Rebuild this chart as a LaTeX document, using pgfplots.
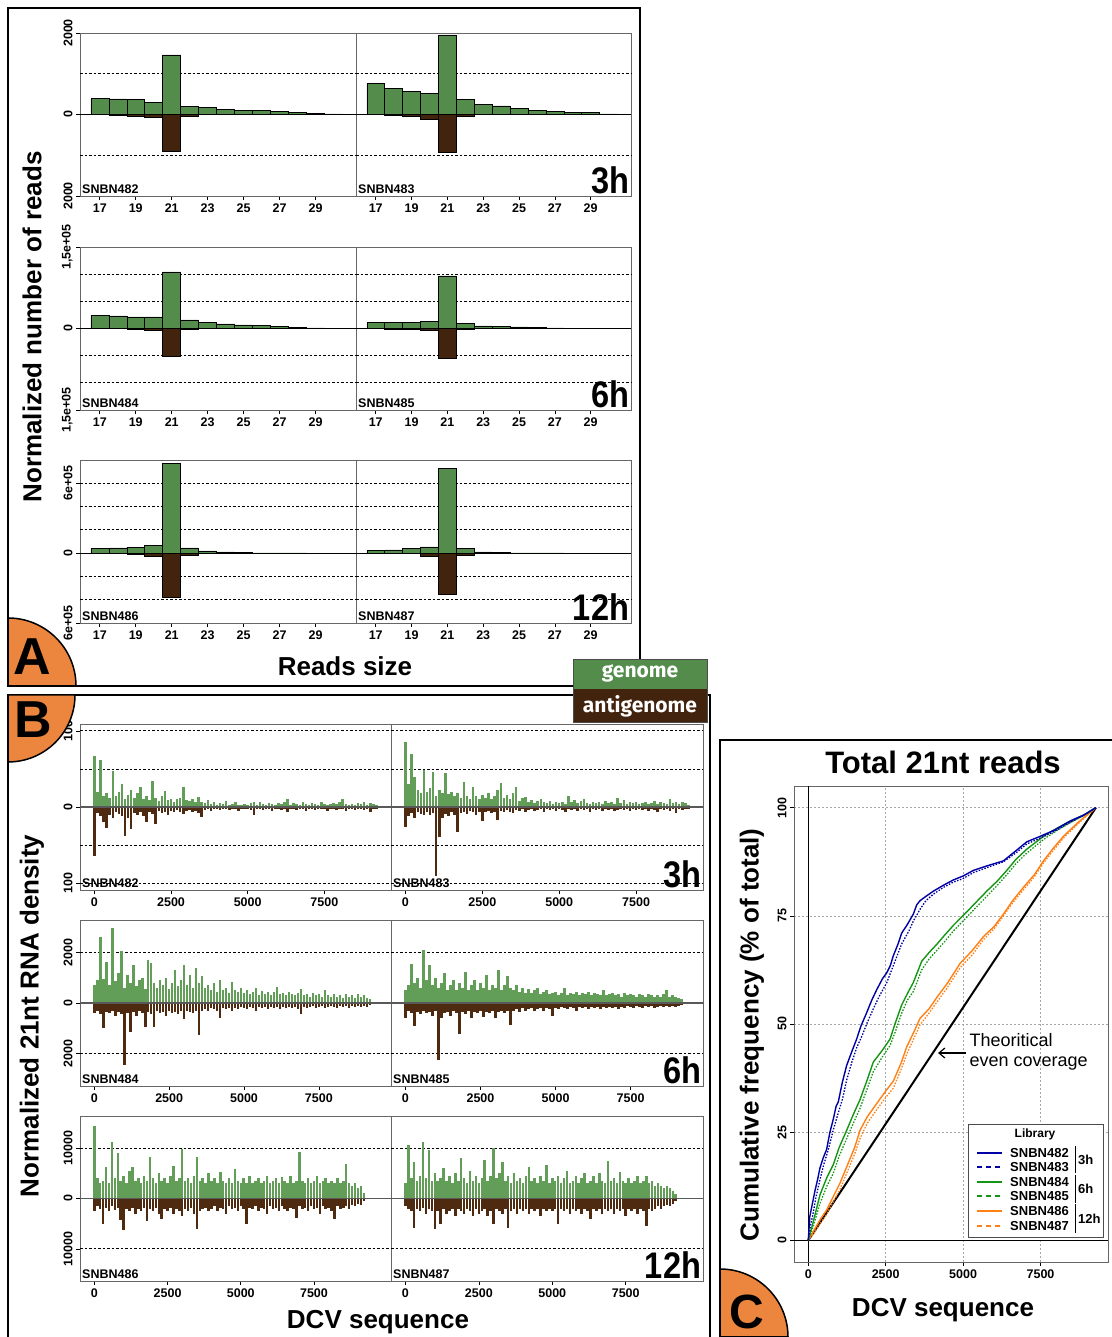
\documentclass[border=0pt]{standalone}
\usepackage{fontspec}
\setmainfont{Liberation Sans}
\newfontfamily\gfont{Fira Sans}
\usepackage{pgfplots}
\pgfplotsset{compat=1.18}
\usetikzlibrary{arrows.meta}
\definecolor{gen}{RGB}{84,140,76}
\definecolor{agen}{RGB}{66,35,14}
\definecolor{genB}{RGB}{98,158,88}
\definecolor{agenB}{RGB}{78,42,16}
\definecolor{orng}{RGB}{236,134,62}
\definecolor{cblue}{RGB}{0,0,165}
\definecolor{cgreen}{RGB}{20,150,20}
\definecolor{corange}{RGB}{255,128,20}
\newcommand\tk{\fontsize{12.5}{13}\selectfont\bfseries}
\newcommand\lib{\fontsize{12.5}{13}\selectfont\bfseries}
\newcommand\libL{\fontsize{13}{13}\selectfont\bfseries}
\newcommand\bigT{\fontsize{37}{37}\selectfont\bfseries}
\newcommand\lab{\fontsize{26}{26}\selectfont\bfseries}
\newcommand\titl{\fontsize{31}{31}\selectfont\bfseries}
\newcommand\gf{\gfont\fontsize{21}{21}\selectfont\bfseries}
\pgfplotsset{
 base/.style={scale only axis, anchor=south west,
   axis line style={draw=black!60, line width=0.8pt},
   tick align=outside, major tick length=4pt, tick style={black, line width=0.6pt},
   xticklabel style={font=\tk}, yticklabel style={font=\tk, rotate=90, anchor=south},
   scaled y ticks=false, scaled x ticks=false,
   /pgf/number format/1000 sep={}, /pgf/number format/assume math mode=true,
   extra y tick labels={}, extra y tick style={grid=major, major tick length=0pt},
   major grid style={black, line width=0.7pt, dash pattern=on 2.5pt off 2pt},
   xtick pos=bottom, ytick pos=left},
 A/.style={base, xmin=15.9, xmax=31.25, xtick={17,19,...,29}, height=163pt},
 B/.style={base, xtick={0,2500,5000,7500}},
 gbar/.style={ybar, bar width=1, bar shift=0pt, fill=gen, draw=black, line width=0.5pt},
 abar/.style={ybar, bar width=1, bar shift=0pt, fill=agen, draw=black, line width=0.5pt},
 gc/.style={ycomb, genB, line width=2.5pt},
 ac/.style={ycomb, agenB, line width=2.5pt},
}
\begin{document}
\begin{tikzpicture}
\path[use as bounding box] (0pt,0pt) rectangle (1111pt,1337pt);
%================ PANEL A ================
% row 1
\begin{axis}[A, at={(80pt,1141pt)}, width=276pt, ymin=-2000, ymax=2000, ytick={-2000,0,2000}, yticklabels={2000,0,2000}, extra y ticks={-1000,1000}]
\addplot[gbar] coordinates {(17,390)(18,382)(19,366)(20,293)(21,1463)(22,195)(23,171)(24,122)(25,106)(26,106)(27,73)(28,49)(29,24)(30,16)};
\addplot[abar] coordinates {(18,-24)(19,-49)(20,-73)(21,-894)(22,-49)};
\addplot[black, line width=1pt] coordinates {(15.9,0)(31.25,0)};
\node[anchor=south west, font=\lib, inner sep=2pt] at (rel axis cs:0,0) {SNBN482};
\end{axis}
\begin{axis}[A, at={(356pt,1141pt)}, width=275pt, ymin=-2000, ymax=2000, ytick=\empty, extra y ticks={-1000,1000}]
\addplot[gbar] coordinates {(17,756)(18,634)(19,561)(20,512)(21,1951)(22,366)(23,244)(24,211)(25,154)(26,106)(27,73)(28,49)(29,49)(30,16)};
\addplot[abar] coordinates {(18,-16)(19,-49)(20,-114)(21,-919)(22,-49)};
\addplot[black, line width=1pt] coordinates {(15.9,0)(31.25,0)};
\node[anchor=south west, font=\lib, inner sep=2pt] at (rel axis cs:0,0) {SNBN483};
\node[anchor=south east, font=\bigT, inner sep=2pt, xscale=0.88] at (rel axis cs:1,0) {3h};
\end{axis}
% row 2
\begin{axis}[A, at={(80pt,927pt)}, width=276pt, ymin=-150000, ymax=150000, ytick={-150000,0,150000}, yticklabels={{1,5e+05},0,{1,5e+05}}, extra y ticks={-100000,-50000,50000,100000}]
\addplot[gbar] coordinates {(17,23900)(18,23300)(19,21500)(20,21500)(21,104300)(22,16000)(23,11000)(24,8600)(25,6700)(26,5500)(27,3700)(28,2500)(29,1200)(30,600)};
\addplot[abar] coordinates {(19,-1200)(20,-3000)(21,-52000)(22,-1800)};
\addplot[black, line width=1pt] coordinates {(15.9,0)(31.25,0)};
\node[anchor=south west, font=\lib, inner sep=2pt] at (rel axis cs:0,0) {SNBN484};
\end{axis}
\begin{axis}[A, at={(356pt,927pt)}, width=275pt, ymin=-150000, ymax=150000, ytick=\empty, extra y ticks={-100000,-50000,50000,100000}]
\addplot[gbar] coordinates {(17,11000)(18,11000)(19,11000)(20,12900)(21,97000)(22,9200)(23,4900)(24,4300)(25,3000)(26,1800)(27,1200)(28,600)(29,600)(30,300)};
\addplot[abar] coordinates {(18,-600)(19,-1800)(20,-3000)(21,-55000)(22,-1800)};
\addplot[black, line width=1pt] coordinates {(15.9,0)(31.25,0)};
\node[anchor=south west, font=\lib, inner sep=2pt] at (rel axis cs:0,0) {SNBN485};
\node[anchor=south east, font=\bigT, inner sep=2pt, xscale=0.88] at (rel axis cs:1,0) {6h};
\end{axis}
% row 3
\begin{axis}[A, at={(80pt,714pt)}, width=276pt, ymin=-600000, ymax=800000, ytick={-600000,0,600000}, yticklabels={6e+05,0,6e+05}, extra y ticks={-400000,-200000,200000,400000,600000}]
\addplot[gbar] coordinates {(17,40000)(18,46000)(19,51000)(20,69000)(21,769000)(22,46000)(23,20000)(24,11000)(25,6000)(26,3000)(27,2000)(28,1500)(29,1000)(30,1000)};
\addplot[abar] coordinates {(19,-6000)(20,-26000)(21,-377000)(22,-14000)(23,-3000)};
\addplot[black, line width=1pt] coordinates {(15.9,0)(31.25,0)};
\node[anchor=south west, font=\lib, inner sep=2pt] at (rel axis cs:0,0) {SNBN486};
\end{axis}
\begin{axis}[A, at={(356pt,714pt)}, width=275pt, ymin=-600000, ymax=800000, ytick=\empty, extra y ticks={-400000,-200000,200000,400000,600000}]
\addplot[gbar] coordinates {(17,23000)(18,29000)(19,40000)(20,54000)(21,731000)(22,40000)(23,11000)(24,6000)(25,3000)(26,2000)(27,1500)(28,1000)(29,1000)(30,1000)};
\addplot[abar] coordinates {(19,-3000)(20,-23000)(21,-357000)(22,-14000)};
\addplot[black, line width=1pt] coordinates {(15.9,0)(31.25,0)};
\node[anchor=south west, font=\lib, inner sep=2pt] at (rel axis cs:0,0) {SNBN487};
\node[anchor=south east, font=\bigT, inner sep=2pt, xscale=0.88] at (rel axis cs:1,0) {12h};
\end{axis}
%================ PANEL B ================
% row 1
\begin{axis}[B, at={(80pt,447pt)}, width=311pt, height=166pt, xmin=-470, xmax=9675, ymin=-109, ymax=109, ytick={-100,0,100}, yticklabels={100,0,100}, extra y ticks={-100,-50,50,100}]
\addplot[gc] coordinates {(0,67)(100,20)(200,62)(300,15)(400,18)(500,12)(600,47)(700,14)(800,20)(900,30)(1000,10)(1100,16)(1200,22)(1300,12)(1400,18)(1500,26)(1600,11)(1700,14)(1800,9)(1900,34)(2000,12)(2100,8)(2200,14)(2300,21)(2400,9)(2500,11)(2600,7)(2700,10)(2800,12)(2900,26)(3000,9)(3100,8)(3200,11)(3300,6)(3400,13)(3500,7)(3600,5)(3700,9)(3800,4)(3900,6)(4000,3)(4100,5)(4200,4)(4300,8)(4400,3)(4500,4)(4600,7)(4700,3)(4800,2)(4900,4)(5000,3)(5100,5)(5200,7)(5300,3)(5400,6)(5500,4)(5600,3)(5700,5)(5800,4)(5900,3)(6000,5)(6100,4)(6200,7)(6300,10)(6400,3)(6500,5)(6600,4)(6700,3)(6800,6)(6900,4)(7000,3)(7100,5)(7200,4)(7300,3)(7400,6)(7500,4)(7600,3)(7700,4)(7800,5)(7900,4)(8000,6)(8100,10)(8200,4)(8300,3)(8400,4)(8500,3)(8600,5)(8700,4)(8800,6)(8900,3)(9000,5)(9100,4)(9200,2)};
\addplot[ac] coordinates {(0,-65)(100,-8)(200,-12)(300,-20)(400,-27)(500,-10)(600,-14)(700,-6)(800,-9)(900,-12)(1000,-38)(1100,-15)(1200,-29)(1300,-8)(1400,-10)(1500,-7)(1600,-12)(1700,-20)(1800,-6)(1900,-9)(2000,-22)(2100,-5)(2200,-8)(2300,-6)(2400,-10)(2500,-5)(2600,-7)(2700,-4)(2800,-6)(2900,-9)(3000,-5)(3100,-4)(3200,-7)(3300,-5)(3400,-8)(3500,-13)(3600,-4)(3700,-3)(3800,-5)(3900,-3)(4000,-2)(4100,-4)(4200,-3)(4300,-2)(4400,-4)(4500,-3)(4600,-2)(4700,-5)(4800,-3)(4900,-2)(5000,-3)(5100,-4)(5200,-10)(5300,-2)(5400,-3)(5500,-4)(5600,-2)(5700,-3)(5800,-5)(5900,-2)(6000,-3)(6100,-4)(6200,-2)(6300,-6)(6400,-3)(6500,-2)(6600,-4)(6700,-3)(6800,-2)(6900,-5)(7000,-3)(7100,-2)(7200,-4)(7300,-3)(7400,-2)(7500,-3)(7600,-5)(7700,-2)(7800,-3)(7900,-4)(8000,-2)(8100,-3)(8200,-5)(8300,-2)(8400,-3)(8500,-4)(8600,-2)(8700,-3)(8800,-4)(8900,-2)(9000,-7)(9100,-3)(9200,-2)};
\addplot[black!65, line width=1.5pt] coordinates {(-500,0)(10200,0)};
\node[anchor=south west, font=\lib, inner sep=2pt] at (rel axis cs:0,0) {SNBN482};
\end{axis}
\begin{axis}[B, at={(391pt,447pt)}, width=312pt, height=166pt, xmin=-470, xmax=9675, ymin=-109, ymax=109, ytick=\empty, extra y ticks={-100,-50,50,100}]
\addplot[gc] coordinates {(0,85)(100,30)(200,70)(300,40)(400,22)(500,18)(600,48)(700,20)(800,25)(900,46)(1000,15)(1100,22)(1200,18)(1300,44)(1400,17)(1500,20)(1600,14)(1700,18)(1800,12)(1900,33)(2000,15)(2100,11)(2200,26)(2300,14)(2400,10)(2500,16)(2600,12)(2700,19)(2800,11)(2900,14)(3000,22)(3100,31)(3200,12)(3300,16)(3400,10)(3500,18)(3600,26)(3700,8)(3800,12)(3900,13)(4000,6)(4100,9)(4200,5)(4300,8)(4400,11)(4500,6)(4600,5)(4700,8)(4800,4)(4900,6)(5000,5)(5100,7)(5200,4)(5300,15)(5400,6)(5500,9)(5600,5)(5700,8)(5800,11)(5900,5)(6000,4)(6100,7)(6200,5)(6300,6)(6400,4)(6500,8)(6600,5)(6700,6)(6800,4)(6900,12)(7000,5)(7100,9)(7200,4)(7300,6)(7400,5)(7500,7)(7600,4)(7700,5)(7800,6)(7900,4)(8000,5)(8100,8)(8200,4)(8300,6)(8400,5)(8500,4)(8600,10)(8700,5)(8800,7)(8900,4)(9000,6)(9100,5)(9200,3)};
\addplot[ac] coordinates {(0,-26)(100,-12)(200,-8)(300,-14)(400,-6)(500,-9)(600,-11)(700,-7)(800,-10)(900,-8)(1000,-90)(1100,-40)(1200,-15)(1300,-9)(1400,-12)(1500,-7)(1600,-10)(1700,-33)(1800,-8)(1900,-6)(2000,-9)(2100,-5)(2200,-7)(2300,-10)(2400,-6)(2500,-18)(2600,-7)(2700,-5)(2800,-8)(2900,-6)(3000,-17)(3100,-5)(3200,-7)(3300,-4)(3400,-6)(3500,-8)(3600,-4)(3700,-5)(3800,-3)(3900,-6)(4000,-4)(4100,-3)(4200,-5)(4300,-4)(4400,-3)(4500,-6)(4600,-3)(4700,-4)(4800,-3)(4900,-5)(5000,-3)(5100,-4)(5200,-7)(5300,-3)(5400,-4)(5500,-3)(5600,-5)(5700,-3)(5800,-4)(5900,-3)(6000,-6)(6100,-3)(6200,-4)(6300,-3)(6400,-5)(6500,-3)(6600,-4)(6700,-3)(6800,-5)(6900,-4)(7000,-3)(7100,-4)(7200,-3)(7300,-5)(7400,-3)(7500,-4)(7600,-3)(7700,-4)(7800,-3)(7900,-5)(8000,-3)(8100,-4)(8200,-6)(8300,-3)(8400,-4)(8500,-3)(8600,-5)(8700,-3)(8800,-8)(8900,-3)(9000,-4)(9100,-3)(9200,-2)};
\addplot[black!65, line width=1.5pt] coordinates {(-500,0)(10200,0)};
\node[anchor=south west, font=\lib, inner sep=2pt] at (rel axis cs:0,0) {SNBN483};
\node[anchor=south east, font=\bigT, inner sep=2pt, xscale=0.88] at (rel axis cs:1,0) {3h};
\end{axis}
% row 2
\begin{axis}[B, at={(80pt,251pt)}, width=311pt, height=166pt, xmin=-480, xmax=9910, ymin=-3270, ymax=3270, ytick={-2000,0,2000}, yticklabels={2000,0,2000}, extra y ticks={-2000,2000}]
\addplot[gc] coordinates {(0,720)(100,900)(200,2610)(300,950)(400,1600)(500,700)(600,2940)(700,850)(800,1200)(900,2060)(1000,600)(1100,1100)(1200,800)(1300,1500)(1400,650)(1500,900)(1600,1000)(1700,550)(1800,1700)(1900,1570)(2000,800)(2100,600)(2200,900)(2300,700)(2400,1000)(2500,550)(2600,800)(2700,1310)(2800,650)(2900,900)(3000,1480)(3100,700)(3200,1100)(3300,600)(3400,1390)(3500,800)(3600,1050)(3700,600)(3800,700)(3900,500)(4000,800)(4100,450)(4200,915)(4300,500)(4400,600)(4500,400)(4600,810)(4700,500)(4800,450)(4900,600)(5000,400)(5100,520)(5200,350)(5300,450)(5400,600)(5500,300)(5600,480)(5700,350)(5800,420)(5900,300)(6000,450)(6100,630)(6200,350)(6300,400)(6400,300)(6500,450)(6600,350)(6700,300)(6800,400)(6900,550)(7000,300)(7100,350)(7200,250)(7300,400)(7400,300)(7500,350)(7600,250)(7700,520)(7800,300)(7900,250)(8000,350)(8100,250)(8200,300)(8300,200)(8400,350)(8500,250)(8600,300)(8700,200)(8800,370)(8900,250)(9000,300)(9100,200)(9200,150)};
\addplot[ac] coordinates {(0,-390)(100,-300)(200,-450)(300,-980)(400,-350)(500,-400)(600,-300)(700,-500)(800,-350)(900,-450)(1000,-2460)(1100,-400)(1200,-1150)(1300,-350)(1400,-500)(1500,-300)(1600,-400)(1700,-940)(1800,-350)(1900,-450)(2000,-940)(2100,-300)(2200,-400)(2300,-350)(2400,-500)(2500,-300)(2600,-400)(2700,-350)(2800,-450)(2900,-300)(3000,-650)(3100,-300)(3200,-350)(3300,-400)(3400,-300)(3500,-1280)(3600,-300)(3700,-250)(3800,-300)(3900,-200)(4000,-250)(4100,-300)(4200,-590)(4300,-200)(4400,-250)(4500,-200)(4600,-300)(4700,-200)(4800,-250)(4900,-150)(5000,-200)(5100,-250)(5200,-150)(5300,-200)(5400,-300)(5500,-150)(5600,-200)(5700,-150)(5800,-250)(5900,-150)(6000,-200)(6100,-150)(6200,-250)(6300,-150)(6400,-200)(6500,-150)(6600,-200)(6700,-150)(6800,-250)(6900,-420)(7000,-150)(7100,-200)(7200,-150)(7300,-100)(7400,-200)(7500,-150)(7600,-100)(7700,-200)(7800,-150)(7900,-100)(8000,-150)(8100,-200)(8200,-100)(8300,-150)(8400,-100)(8500,-200)(8600,-100)(8700,-150)(8800,-100)(8900,-150)(9000,-100)(9100,-150)(9200,-80)};
\addplot[black!65, line width=1.5pt] coordinates {(-500,0)(10200,0)};
\node[anchor=south west, font=\lib, inner sep=2pt] at (rel axis cs:0,0) {SNBN484};
\end{axis}
\begin{axis}[B, at={(391pt,251pt)}, width=312pt, height=166pt, xmin=-480, xmax=9910, ymin=-3270, ymax=3270, ytick=\empty, extra y ticks={-2000,2000}]
\addplot[gc] coordinates {(0,500)(100,700)(200,1540)(300,800)(400,1000)(500,600)(600,2090)(700,900)(800,1500)(900,700)(1000,1000)(1100,600)(1200,800)(1300,1180)(1400,500)(1500,700)(1600,900)(1700,500)(1800,800)(1900,600)(2000,1240)(2100,500)(2200,700)(2300,900)(2400,500)(2500,800)(2600,600)(2700,1110)(2800,500)(2900,700)(3000,600)(3100,1310)(3200,500)(3300,700)(3400,1045)(3500,600)(3600,500)(3700,700)(3800,450)(3900,600)(4000,400)(4100,550)(4200,400)(4300,500)(4400,600)(4500,350)(4600,450)(4700,500)(4800,350)(4900,400)(5000,450)(5100,300)(5200,400)(5300,590)(5400,300)(5500,400)(5600,350)(5700,450)(5800,300)(5900,400)(6000,350)(6100,450)(6200,300)(6300,400)(6400,350)(6500,300)(6600,520)(6700,300)(6800,350)(6900,400)(7000,300)(7100,350)(7200,250)(7300,400)(7400,300)(7500,350)(7600,300)(7700,250)(7800,350)(7900,300)(8000,250)(8100,350)(8200,300)(8300,250)(8400,300)(8500,250)(8600,350)(8700,520)(8800,250)(8900,300)(9000,250)(9100,200)(9200,150)};
\addplot[ac] coordinates {(0,-600)(100,-300)(200,-400)(300,-915)(400,-350)(500,-450)(600,-300)(700,-400)(800,-350)(900,-500)(1000,-300)(1100,-2250)(1200,-600)(1300,-400)(1400,-350)(1500,-500)(1600,-300)(1700,-400)(1800,-1240)(1900,-350)(2000,-450)(2100,-300)(2200,-600)(2300,-350)(2400,-400)(2500,-300)(2600,-550)(2700,-350)(2800,-400)(2900,-300)(3000,-600)(3100,-350)(3200,-300)(3300,-400)(3400,-300)(3500,-850)(3600,-300)(3700,-250)(3800,-350)(3900,-200)(4000,-300)(4100,-250)(4200,-200)(4300,-300)(4400,-250)(4500,-200)(4600,-300)(4700,-200)(4800,-250)(4900,-500)(5000,-200)(5100,-250)(5200,-150)(5300,-200)(5400,-250)(5500,-150)(5600,-200)(5700,-300)(5800,-150)(5900,-200)(6000,-150)(6100,-250)(6200,-150)(6300,-200)(6400,-150)(6500,-250)(6600,-150)(6700,-200)(6800,-150)(6900,-200)(7000,-150)(7100,-250)(7200,-150)(7300,-200)(7400,-100)(7500,-150)(7600,-200)(7700,-100)(7800,-150)(7900,-200)(8000,-100)(8100,-150)(8200,-100)(8300,-200)(8400,-150)(8500,-100)(8600,-150)(8700,-100)(8800,-150)(8900,-100)(9000,-150)(9100,-100)(9200,-80)};
\addplot[black!65, line width=1.5pt] coordinates {(-500,0)(10200,0)};
\node[anchor=south west, font=\lib, inner sep=2pt] at (rel axis cs:0,0) {SNBN485};
\node[anchor=south east, font=\bigT, inner sep=2pt, xscale=0.88] at (rel axis cs:1,0) {6h};
\end{axis}
% row 3
\begin{axis}[B, at={(80pt,56pt)}, width=311pt, height=165pt, xmin=-490, xmax=10130, ymin=-16400, ymax=16400, ytick={-10000,0,10000}, yticklabels={10000,0,10000}, extra y ticks={-10000,10000}]
\addplot[gc] coordinates {(0,14400)(100,4000)(200,3000)(300,3500)(400,6200)(500,3000)(600,11300)(700,4000)(800,8950)(900,3500)(1000,4500)(1100,3000)(1200,5500)(1300,6200)(1400,3500)(1500,4000)(1600,3000)(1700,4500)(1800,3500)(1900,8300)(2000,4000)(2100,3000)(2200,5000)(2300,3500)(2400,4000)(2500,3000)(2600,4500)(2700,6500)(2800,3500)(2900,4000)(3000,9800)(3100,3500)(3200,4000)(3300,3000)(3400,4500)(3500,8150)(3600,3500)(3700,4000)(3800,3000)(3900,5000)(4000,3500)(4100,4000)(4200,3000)(4300,5330)(4400,3500)(4500,3000)(4600,4000)(4700,3000)(4800,5860)(4900,3500)(5000,3000)(5100,4000)(5200,3000)(5300,4500)(5400,3000)(5500,3500)(5600,4000)(5700,3000)(5800,3500)(5900,4500)(6000,3000)(6100,3500)(6200,4000)(6300,3000)(6400,4200)(6500,3500)(6600,3000)(6700,4500)(6800,3000)(6900,3500)(7000,9200)(7100,3500)(7200,3000)(7300,4000)(7400,3000)(7500,3500)(7600,4500)(7700,3000)(7800,3500)(7900,4000)(8000,3000)(8100,3500)(8200,3000)(8300,4000)(8400,3000)(8500,3500)(8600,6840)(8700,3000)(8800,2500)(8900,3000)(9000,2000)(9100,2500)(9200,1000)};
\addplot[ac] coordinates {(0,-2400)(100,-1500)(200,-2000)(300,-5130)(400,-1800)(500,-2500)(600,-1500)(700,-2200)(800,-1800)(900,-4340)(1000,-6180)(1100,-2000)(1200,-2500)(1300,-1800)(1400,-3000)(1500,-2000)(1600,-2500)(1700,-1800)(1800,-4540)(1900,-2000)(2000,-2500)(2100,-1800)(2200,-3000)(2300,-4010)(2400,-2000)(2500,-2500)(2600,-1800)(2700,-3000)(2800,-2000)(2900,-2500)(3000,-3500)(3100,-2000)(3200,-2500)(3300,-1800)(3400,-3000)(3500,-6120)(3600,-2500)(3700,-2000)(3800,-1800)(3900,-2500)(4000,-2000)(4100,-1500)(4200,-2500)(4300,-1800)(4400,-2000)(4500,-3000)(4600,-1500)(4700,-2000)(4800,-1800)(4900,-2500)(5000,-1500)(5100,-2000)(5200,-5000)(5300,-1800)(5400,-2000)(5500,-1500)(5600,-2500)(5700,-1800)(5800,-2000)(5900,-3000)(6000,-1500)(6100,-2000)(6200,-1800)(6300,-2500)(6400,-1500)(6500,-2000)(6600,-2500)(6700,-1800)(6800,-2000)(6900,-3820)(7000,-1500)(7100,-2000)(7200,-1800)(7300,-2500)(7400,-1500)(7500,-2000)(7600,-1800)(7700,-3000)(7800,-1500)(7900,-2000)(8000,-1800)(8100,-2500)(8200,-4010)(8300,-1500)(8400,-2000)(8500,-1800)(8600,-1500)(8700,-2000)(8800,-1200)(8900,-1500)(9000,-1000)(9100,-1200)(9200,-500)};
\addplot[black!65, line width=1.5pt] coordinates {(-500,0)(10200,0)};
\node[anchor=south west, font=\lib, inner sep=2pt] at (rel axis cs:0,0) {SNBN486};
\end{axis}
\begin{axis}[B, at={(391pt,56pt)}, width=312pt, height=165pt, xmin=-490, xmax=10130, ymin=-16400, ymax=16400, ytick=\empty, extra y ticks={-10000,10000}]
\addplot[gc] coordinates {(0,3000)(100,10600)(200,4000)(300,7300)(400,3500)(500,4500)(600,11250)(700,4000)(800,9600)(900,3500)(1000,5000)(1100,3500)(1200,4000)(1300,6000)(1400,3500)(1500,4500)(1600,3000)(1700,5000)(1800,3500)(1900,7960)(2000,4000)(2100,3000)(2200,5500)(2300,3500)(2400,4500)(2500,3000)(2600,4000)(2700,7700)(2800,3500)(2900,4500)(3000,10000)(3100,4000)(3200,5000)(3300,7170)(3400,3500)(3500,4500)(3600,3000)(3700,5000)(3800,3500)(3900,4000)(4000,3000)(4100,4500)(4200,6180)(4300,3500)(4400,4000)(4500,3000)(4600,4500)(4700,3500)(4800,6650)(4900,3000)(5000,4000)(5100,3500)(5200,4500)(5300,3000)(5400,4000)(5500,5500)(5600,3000)(5700,3500)(5800,4500)(5900,3000)(6000,4000)(6100,5000)(6200,3000)(6300,3500)(6400,4500)(6500,3000)(6600,5000)(6700,3500)(6800,3000)(6900,7500)(7000,3500)(7100,4000)(7200,3000)(7300,5330)(7400,3500)(7500,3000)(7600,4000)(7700,3000)(7800,3500)(7900,4500)(8000,3000)(8100,3500)(8200,4500)(8300,3000)(8400,3500)(8500,2500)(8600,3000)(8700,2500)(8800,2000)(8900,2500)(9000,2000)(9100,1500)(9200,800)};
\addplot[ac] coordinates {(0,-1500)(100,-2000)(200,-2500)(300,-5790)(400,-2000)(500,-2500)(600,-1800)(700,-3000)(800,-2000)(900,-2500)(1000,-6120)(1100,-2500)(1200,-5000)(1300,-2000)(1400,-3000)(1500,-2500)(1600,-2000)(1700,-3500)(1800,-2000)(1900,-2500)(2000,-3000)(2100,-2000)(2200,-2500)(2300,-3500)(2400,-2000)(2500,-3000)(2600,-2500)(2700,-2000)(2800,-3500)(2900,-2500)(3000,-5130)(3100,-2000)(3200,-2500)(3300,-3000)(3400,-2000)(3500,-5790)(3600,-2500)(3700,-2000)(3800,-3000)(3900,-2000)(4000,-2500)(4100,-2000)(4200,-3000)(4300,-2000)(4400,-2500)(4500,-2000)(4600,-3500)(4700,-2000)(4800,-2500)(4900,-2000)(5000,-2500)(5100,-2000)(5200,-5130)(5300,-2000)(5400,-2500)(5500,-2000)(5600,-3000)(5700,-2000)(5800,-2500)(5900,-2000)(6000,-3000)(6100,-2000)(6200,-2500)(6300,-4000)(6400,-2000)(6500,-2500)(6600,-2000)(6700,-3000)(6800,-2000)(6900,-2500)(7000,-2000)(7100,-3000)(7200,-2000)(7300,-2500)(7400,-2000)(7500,-3500)(7600,-2000)(7700,-2500)(7800,-2000)(7900,-3000)(8000,-2000)(8100,-2500)(8200,-5530)(8300,-2000)(8400,-2500)(8500,-2000)(8600,-1500)(8700,-2000)(8800,-1500)(8900,-1200)(9000,-1500)(9100,-1000)(9200,-500)};
\addplot[black!65, line width=1.5pt] coordinates {(-500,0)(10200,0)};
\node[anchor=south west, font=\lib, inner sep=2pt] at (rel axis cs:0,0) {SNBN487};
\node[anchor=south east, font=\bigT, inner sep=2pt, xscale=0.88] at (rel axis cs:1,0) {12h};
\end{axis}
%================ PANEL C ================
\begin{axis}[scale only axis, anchor=south west, at={(794pt,75pt)}, width=314pt, height=476pt,
  xmin=-460, xmax=9680, ymin=-5, ymax=105, xtick={0,2500,5000,7500}, ytick={0,25,50,75,100},
  grid=major, major grid style={gray!70, dash pattern=on 2pt off 2pt, line width=0.6pt},
  axis line style={draw=black!60, line width=0.8pt}, tick align=outside, major tick length=4pt,
  tick style={black, line width=0.6pt}, xticklabel style={font=\tk}, yticklabel style={font=\tk, rotate=90, anchor=south},
  /pgf/number format/1000 sep={}, /pgf/number format/assume math mode=true, xtick pos=bottom, ytick pos=left]
\addplot[black, line width=0.8pt] coordinates {(-460,0)(9680,0)};
\addplot[black, line width=0.8pt] coordinates {(0,-5)(0,105)};
\addplot[black, line width=2pt] coordinates {(0,0)(9290,100)};
\addplot[corange, line width=1.3pt, dash pattern=on 1.5pt off 1.5pt] coordinates {(0,0)(200,1.8)(400,4)(593,6)(800,8.8)(1024,11.8)(1300,16.5)(1500,20)(1670,23.5)(1900,27)(2209,30.2)(2500,33)(2748,35.2)(3000,39.5)(3179,43)(3400,46.5)(3610,49.8)(3900,52.5)(4149,55)(4500,58.5)(4903,63)(5300,66)(5657,69.5)(6000,72)(6304,75)(6600,78)(6951,81)(7300,84)(7597,87.2)(7900,90)(8244,93)(8700,96.2)(9290,100)};
\addplot[corange, line width=1.4pt] coordinates {(0,0)(200,2.5)(400,5)(593,7)(800,10)(1024,13.2)(1300,18)(1500,21.5)(1670,25.4)(1900,28.5)(2209,31.6)(2500,34.5)(2748,36.8)(3000,41)(3179,44.7)(3400,48)(3610,51.3)(3900,53.5)(4149,56.1)(4500,59.5)(4903,64)(5300,67)(5657,70.2)(6000,72.5)(6304,75.4)(6600,78.5)(6951,81.6)(7300,84.5)(7597,87.7)(7900,90.5)(8244,93.4)(8700,96.5)(9290,100)};
\addplot[cgreen, line width=1.3pt, dash pattern=on 1.5pt off 1.5pt] coordinates {(0,0)(150,3)(377,8.5)(600,12.5)(808,15.5)(1000,19.5)(1239,23.5)(1450,27)(1670,30.5)(1900,35)(2101,39)(2400,42.5)(2640,45)(2800,48)(3017,52.5)(3200,55.5)(3394,57.5)(3664,62.5)(3900,65)(4149,67)(4400,69)(4688,71.5)(5119,74.7)(5400,76.8)(5765,79.5)(6100,82)(6412,84.5)(6700,87)(7058,89.5)(7400,91.5)(7705,93.2)(8100,95)(8459,96.5)(8900,98.2)(9290,100)};
\addplot[cgreen, line width=1.4pt] coordinates {(0,0)(150,4)(377,10.5)(600,14.5)(808,17.5)(1000,21.5)(1239,25.4)(1450,29)(1670,32.5)(1900,37)(2101,41.2)(2400,44)(2640,46.5)(2800,50)(3017,54.4)(3200,57)(3394,59.6)(3664,64.5)(3900,66.5)(4149,68.4)(4400,70.5)(4688,72.8)(5119,75.9)(5400,78)(5765,80.7)(6100,83)(6412,85.5)(6700,88)(7058,90.4)(7400,92.3)(7705,93.9)(8100,95.5)(8459,96.9)(8900,98.3)(9290,100)};
\addplot[cblue, line width=1.3pt, dash pattern=on 1.5pt off 1.5pt] coordinates {(0,0)(60,3)(150,6)(250,10)(377,14)(500,17.5)(650,21)(808,25.5)(950,29)(1100,32.5)(1239,37)(1400,41)(1562,44.5)(1750,47.5)(1886,50)(2100,53.5)(2300,56.5)(2532,59.5)(2748,63.5)(3017,68.5)(3250,71.5)(3394,73.8)(3610,76.5)(3800,78.5)(4041,80)(4350,81.5)(4688,82.8)(5000,83.6)(5334,85)(5800,86.2)(6304,87.5)(6700,89.5)(7058,91.6)(7500,93)(7920,94.4)(8459,96.6)(8900,98.2)(9290,100)};
\addplot[cblue, line width=1.4pt] coordinates {(0,0)(50,5.5)(120,8)(215,11.4)(300,14)(377,16.7)(480,19)(593,21)(700,25)(808,28)(900,31)(970,32)(1100,36.5)(1239,40.4)(1400,43.5)(1562,46.5)(1700,49.5)(1886,52.6)(2050,55.5)(2209,57.9)(2400,60.5)(2532,61.8)(2650,63.5)(2748,65.8)(2900,68.5)(3017,71)(3200,73)(3394,75.4)(3500,77.5)(3610,78.5)(3800,79.5)(4041,80.7)(4350,82)(4688,83.3)(5000,84.2)(5334,85.5)(5800,86.6)(6304,87.7)(6700,90)(7058,92.1)(7500,93.4)(7920,94.7)(8459,96.9)(8900,98.3)(9290,100)};
\end{axis}
%================ decorations ================
\begin{scope}[x=1pt,y=1pt]
\draw[line width=2pt] (8,651) rectangle (640,1329);
\draw[line width=2pt] (8,-5) -- (8,642) -- (710,642) -- (710,-5);
\draw[line width=2pt] (720,-5) -- (720,597) -- (1116,597);
\filldraw[fill=orng, draw=black, line width=1.5pt] (8,651) -- (76,651) arc[start angle=0, end angle=90, radius=68] -- cycle;
\filldraw[fill=orng, draw=black, line width=1.5pt] (8,642) -- (75,642) arc[start angle=0, end angle=-90, radius=67] -- cycle;
\filldraw[fill=orng, draw=black, line width=1.5pt] (720,0) -- (788,0) arc[start angle=0, end angle=90, radius=68] -- cycle;
\node[font=\fontsize{52}{52}\selectfont\bfseries] at (32,680) {A};
\node[font=\fontsize{52}{52}\selectfont\bfseries] at (33,617) {B};
\node[font=\fontsize{48}{48}\selectfont\bfseries] at (747,25) {C};
\fill[gen] (573,648) rectangle (707,678);
\fill[agen] (573,615) rectangle (707,648);
\draw[black!70, line width=0.8pt] (573,615) rectangle (707,678);
\node[white, font=\gf] at (640,664) {genome};
\node[white, font=\gf] at (640,631) {antigenome};
\node[rotate=90, font=\lab] at (32,1010) {Normalized number of reads};
\node[font=\lab] at (345,671) {Reads size};
\node[rotate=90, font=\lab] at (32,321) {Normalized 21nt RNA density};
\node[font=\lab] at (378,15) {DCV sequence};
\node[font=\titl] at (943,575) {Total 21nt reads};
\node[rotate=90, font=\lab] at (752,302) {Cumulative frequency (\% of total)};
\node[font=\lab] at (943,27) {DCV sequence};
\draw[-{Straight Barb[length=6pt,width=10pt]}, line width=1.2pt] (966,284) -- (938,284);
\node[anchor=west, align=left, font=\fontsize{18}{20}\selectfont] at (966,285) {Theoritical\\even coverage};
\draw[black!70, fill=white, line width=0.8pt] (968,100) rectangle (1103,213);
\node[font=\fontsize{12}{12}\selectfont\bfseries] at (1035,203) {Library};
\draw[cblue, line width=1.6pt] (977,184) -- (1002,184);
\draw[cblue, line width=1.6pt, dash pattern=on 5pt off 4pt] (977,170) -- (1002,170);
\draw[cgreen, line width=1.6pt] (977,155) -- (1002,155);
\draw[cgreen, line width=1.6pt, dash pattern=on 5pt off 4pt] (977,141) -- (1002,141);
\draw[corange, line width=1.6pt] (977,126) -- (1002,126);
\draw[corange, line width=1.6pt, dash pattern=on 5pt off 4pt] (977,111) -- (1002,111);
\node[anchor=west, font=\libL, inner sep=0pt] at (1010,184) {SNBN482};
\node[anchor=west, font=\libL, inner sep=0pt] at (1010,170) {SNBN483};
\node[anchor=west, font=\libL, inner sep=0pt] at (1010,155) {SNBN484};
\node[anchor=west, font=\libL, inner sep=0pt] at (1010,141) {SNBN485};
\node[anchor=west, font=\libL, inner sep=0pt] at (1010,126) {SNBN486};
\node[anchor=west, font=\libL, inner sep=0pt] at (1010,111) {SNBN487};
\draw[line width=1pt] (1075,191) -- (1075,164);
\draw[line width=1pt] (1075,162) -- (1075,134);
\draw[line width=1pt] (1075,133) -- (1075,104);
\node[anchor=west, font=\libL, inner sep=1pt] at (1077,177) {3h};
\node[anchor=west, font=\libL, inner sep=1pt] at (1077,148) {6h};
\node[anchor=west, font=\libL, inner sep=1pt] at (1077,118) {12h};
\end{scope}
\end{tikzpicture}
\end{document}
